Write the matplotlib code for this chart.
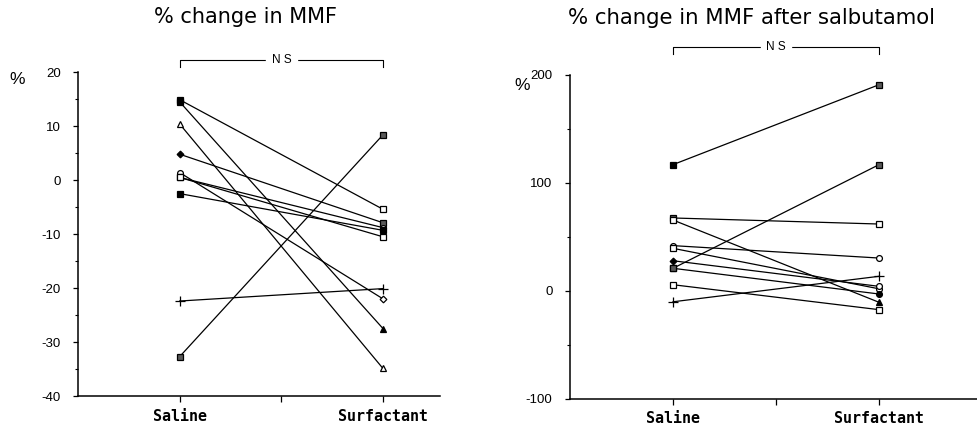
import matplotlib
matplotlib.use("Agg")
import matplotlib.pyplot as plt
from matplotlib.ticker import MultipleLocator

# ==============================
# data
# ==============================
groups = ["Saline", "Surfactant"]

mmf_saline = [14.9, 14.5, 10.4, 4.8, 1.4, 0.5, 0.5, -2.5, -22.4, -32.7]
mmf_surf = [-5.4, -27.5, -34.9, -7.9, -22.0, -10.5, -8.8, -9.3, -20.1, 8.4]

salb_saline = [117, 67.6, 65.7, 42, 39.5, 28, 21, 21, 5.8, -10]
salb_surf = [191, 62, -10.5, 30.5, 2, 4.3, 117, -2.8, -17.3, 13.6]

# marker per subject: (saline marker, surfactant marker)
mmf_markers = [("sf", "so"), ("sf", "^f"), ("^o", "^o"), ("Df", "sh"), ("oo", "Do"),
               ("so", "so"), ("so", "oo"), ("sf", "sf"), ("+", "+"), ("sh", "sh")]
salb_markers = [("sf", "sh"), ("sh", "so"), ("so", "^f"), ("oo", "oo"), ("so", "oo"),
                ("Df", "oo"), ("sh", "sh"), ("sh", "of"), ("so", "so"), ("+", "+")]

plt.rcParams["font.family"] = ["Liberation Sans", "DejaVu Sans"]
plt.rcParams["axes.unicode_minus"] = False

fig = plt.figure(figsize=(9.78, 4.37), dpi=100)


def marker_style(code):
    if code == "+":
        return dict(marker="+", markersize=6.5, markeredgewidth=0.9, color="black")
    shape, fill = code[0], code[1]
    size = {"s": 4.5, "^": 5.0, "D": 3.4, "o": 4.2}[shape]
    face = {"f": "black", "o": "white", "h": "0.35"}[fill]
    return dict(marker=shape, markersize=size, markerfacecolor=face,
                markeredgecolor="black", markeredgewidth=0.9, linestyle="none")


def draw_panel(ax, saline, surf, markers, ylim, major, minor, ns_y, ns_tick):
    for s, f, (m1, m2) in zip(saline, surf, markers):
        ax.plot([0, 2], [s, f], color="black", lw=0.9, zorder=2)
        ax.plot([0], [s], zorder=3, **marker_style(m1))
        ax.plot([2], [f], zorder=3, **marker_style(m2))

    ax.set_ylim(*ylim)
    ax.yaxis.set_major_locator(MultipleLocator(major))
    ax.yaxis.set_minor_locator(MultipleLocator(minor))
    ax.set_xticks([0, 1, 2])
    ax.set_xticklabels([groups[0], "", groups[1]], family="DejaVu Sans Mono",
                       fontsize=10.8, fontweight="bold")
    for side in ["top", "right"]:
        ax.spines[side].set_visible(False)
    for side in ["left", "bottom"]:
        ax.spines[side].set_linewidth(1.1)
    ax.tick_params(axis="y", direction="out", length=3.5, width=0.9,
                   labelsize=9.5, pad=9)
    ax.tick_params(axis="y", which="minor", direction="out", length=2, width=0.8)
    ax.tick_params(axis="x", direction="out", length=4, width=0.9, pad=5)

    # NS bracket
    ax.plot([0, 0, 2, 2], [ns_tick, ns_y, ns_y, ns_tick], color="black",
            lw=0.8, clip_on=False)
    ax.text(1, ns_y, "N S", ha="center", va="center", fontsize=8.5,
            backgroundcolor="white", clip_on=False)


# left panel
ax1 = fig.add_axes([0.0798, 0.0938, 0.370, 0.741])
ax1.set_xlim(-1.0, 2.56)
draw_panel(ax1, mmf_saline, mmf_surf, mmf_markers, (-40, 20), 10, 5, 22.2, 20.9)

# right panel
ax2 = fig.add_axes([0.5828, 0.0870, 0.4172, 0.7414])
ax2.set_xlim(-1.0, 2.96)
draw_panel(ax2, salb_saline, salb_surf, salb_markers, (-100, 200), 100, 50, 226, 219)

fig.text(246 / 978, 1 - 17 / 437, "% change in MMF", ha="center", va="center",
         fontsize=15, family="DejaVu Sans")
fig.text(751 / 978, 1 - 18 / 437, "% change in MMF after salbutamol", ha="center",
         va="center", fontsize=15.3, family="DejaVu Sans")
fig.text(17 / 978, 1 - 80 / 437, "%", ha="center", va="center", fontsize=12.5)
fig.text(522 / 978, 1 - 86 / 437, "%", ha="center", va="center", fontsize=12.5)

fig.savefig("out.png", dpi=100)
